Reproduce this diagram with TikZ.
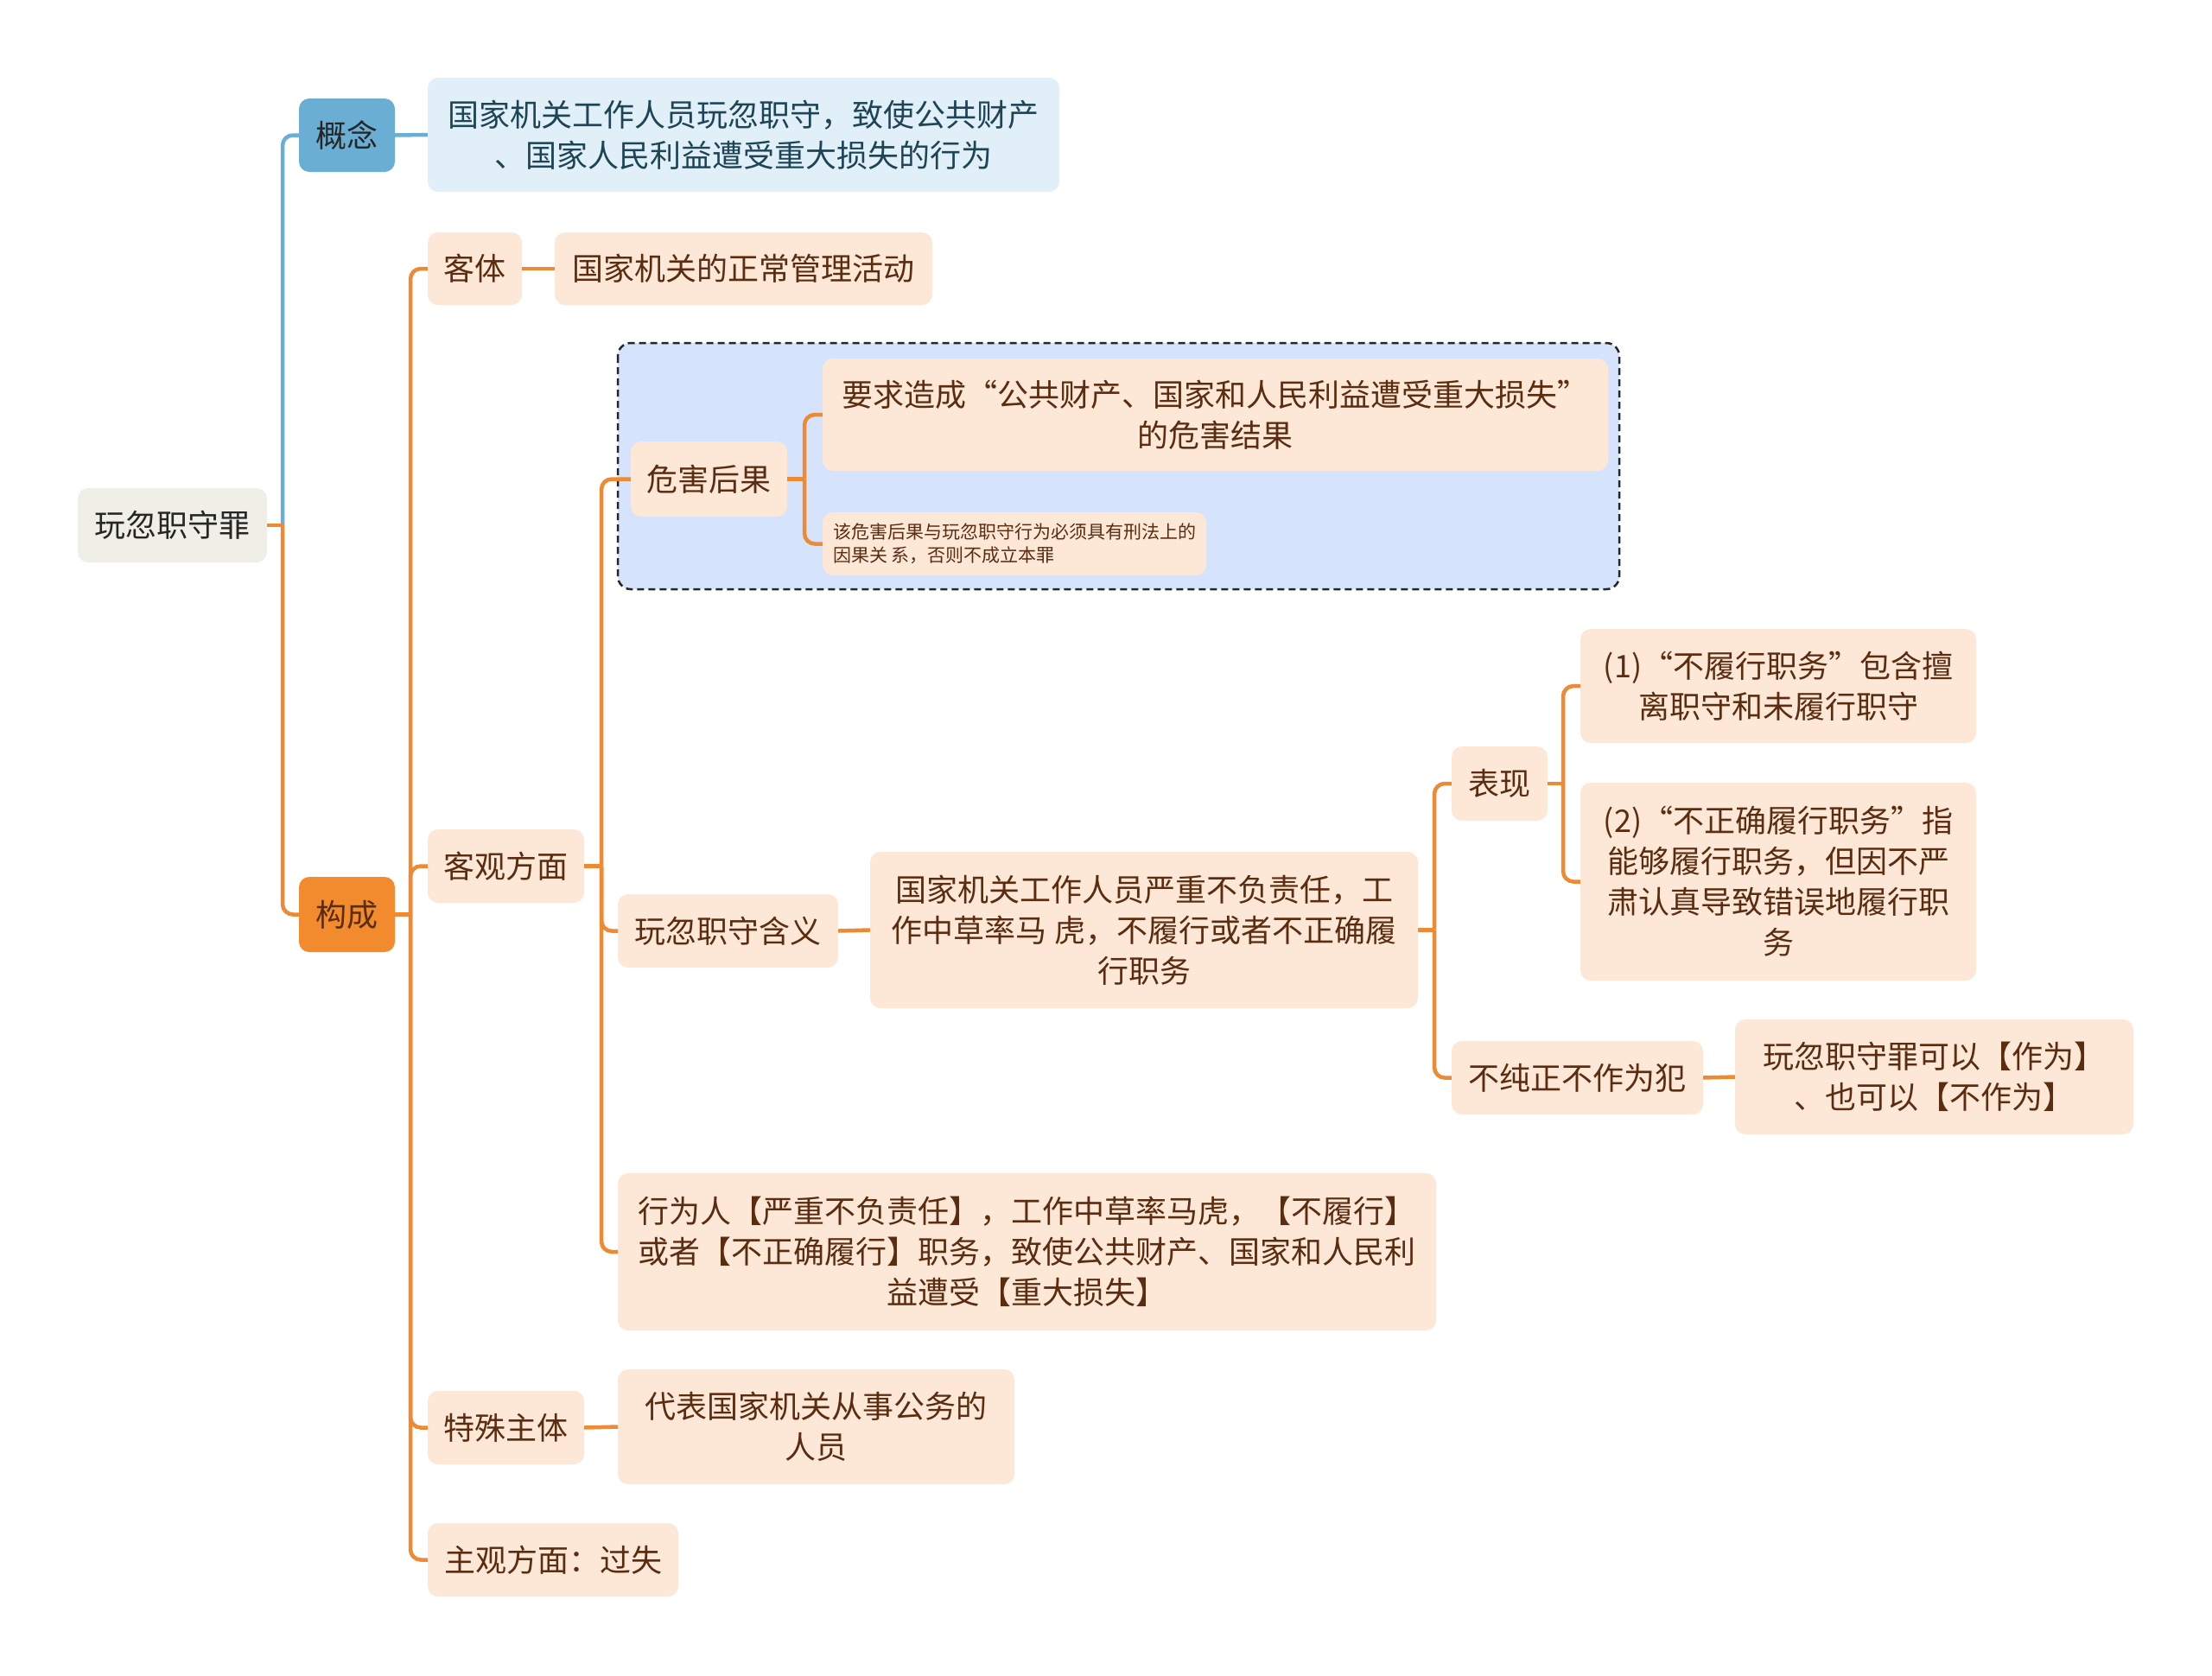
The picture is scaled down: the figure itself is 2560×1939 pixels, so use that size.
\documentclass[tikz,border=0pt]{standalone}
\usepackage{fontspec}
\newfontfamily\cjk{Noto Sans CJK SC}
\definecolor{orl}{HTML}{EE8A33}
\definecolor{bll}{HTML}{6AAED3}
\definecolor{peach}{HTML}{FDE8D7}
\definecolor{brn}{HTML}{5A2C10}
\definecolor{rootf}{HTML}{EFEFE7}
\definecolor{gouf}{HTML}{F28A2E}
\definecolor{gncf}{HTML}{E1F0F8}
\definecolor{gnt}{HTML}{1D4556}
\definecolor{dashf}{HTML}{D5E4FC}
\tikzset{
  box/.style={rounded corners=12pt, inner sep=0pt, align=center, font=\cjk\fontsize{36}{47}\selectfont},
  pbox/.style={box, fill=peach, text=brn},
  oline/.style={draw=orl, line width=4.5pt},
  bline/.style={draw=bll, line width=4.5pt},
  sz/.style 2 args={minimum width=#1pt, minimum height=#2pt}
}
\begin{document}
\begin{tikzpicture}[x=1pt,y=-1pt]
\useasboundingbox (0,0) rectangle (2560,1939);
\fill[white] (0,0) rectangle (2560,1939);
% dashed group
\draw[fill=dashf, draw=black!85, line width=2.5pt, dash pattern=on 8pt off 5pt, rounded corners=15pt] (715,397) rectangle (1874,682);
% nodes
\node[box, fill=rootf, text=black!85, sz={219}{86}] (root) at (199.5,608) {玩忽职守罪};
\node[box, fill=bll, text=black!85, sz={111}{85}] (gn) at (401.5,156.5) {概念};
\node[box, fill=gncf, text=gnt, sz={731}{132}] (gnc) at (860.5,156) {国家机关工作人员玩忽职守，致使公共财产\\、国家人民利益遭受重大损失的行为};
\node[box, fill=gouf, text=brn, sz={111}{87}] (gc) at (401.5,1058.5) {构成};
\node[pbox, sz={109}{84}] (kt) at (549.5,311) {客体};
\node[pbox, sz={437}{84}] (ktc) at (860.5,311) {国家机关的正常管理活动};
\node[pbox, sz={181}{85}] (kg) at (585.5,1002.5) {客观方面};
\node[pbox, sz={181}{87}] (hh) at (820.5,554.5) {危害后果};
\node[pbox, sz={909}{130}] (yq) at (1406.5,480) {要求造成“公共财产、国家和人民利益遭受重大损失”\\的危害结果};
\node[pbox, sz={444}{73}, align=left, font=\cjk\fontsize{21}{27}\selectfont] (gx) at (1174,629.5) {该危害后果与玩忽职守行为必须具有刑法上的\\因果关 系，否则不成立本罪};
\node[pbox, sz={255}{85}] (hy) at (842.5,1077.5) {玩忽职守含义};
\node[pbox, sz={634}{181}] (gj) at (1324,1076.5) {国家机关工作人员严重不负责任，工\\作中草率马 虎，不履行或者不正确履\\行职务};
\node[pbox, sz={111}{86}] (bx) at (1735.5,907) {表现};
\node[pbox, sz={458}{132}] (p1) at (2058,794) {(1)“不履行职务”包含擅\\离职守和未履行职守};
\node[pbox, sz={458}{229}] (p2) at (2058,1020.5) {(2)“不正确履行职务”指\\能够履行职务，但因不严\\肃认真导致错误地履行职\\务};
\node[pbox, sz={291}{85}] (bc) at (1825.5,1247.5) {不纯正不作为犯};
\node[pbox, sz={461}{133}] (kz) at (2238.5,1246.5) {玩忽职守罪可以【作为】\\、也可以【不作为】};
\node[pbox, sz={947}{182}] (xw) at (1188.5,1449) {行为人【严重不负责任】，工作中草率马虎，【不履行】\\或者【不正确履行】职务，致使公共财产、国家和人民利\\益遭受【重大损失】};
\node[pbox, sz={181}{85}] (ts) at (585.5,1652.5) {特殊主体};
\node[pbox, sz={459}{133}] (db) at (944.5,1651.5) {代表国家机关从事公务的\\人员};
\node[pbox, sz={290}{85}] (zg) at (640,1805.5) {主观方面：过失};
% junctions
\coordinate (jR) at (327,608);
\coordinate (jG) at (475,1058.5);
\coordinate (jK) at (696,1002.5);
\coordinate (jH) at (931,554.5);
\coordinate (jJ) at (1660,1076.5);
\coordinate (jB) at (1809,907);
% connectors
\draw[bline, rounded corners=12pt] (jR) |- (gn.west);
\draw[bline] (gn.east) -- (gnc.west);
\draw[oline, rounded corners=12pt] (jR) |- (gc.west);
\draw[oline] (root.east) -- (jR);
\draw[oline] (gc.east) -- (jG);
\foreach \c in {kt,kg,ts,zg} \draw[oline, rounded corners=12pt] (jG) |- (\c.west);
\draw[oline] (kt.east) -- (ktc.west);
\draw[oline] (kg.east) -- (jK);
\foreach \c in {hh,hy,xw} \draw[oline, rounded corners=12pt] (jK) |- (\c.west);
\draw[oline] (hh.east) -- (jH);
\foreach \c in {yq,gx} \draw[oline, rounded corners=12pt] (jH) |- (\c.west);
\draw[oline] (hy.east) -- (gj.west);
\draw[oline] (gj.east) -- (jJ);
\foreach \c in {bx,bc} \draw[oline, rounded corners=12pt] (jJ) |- (\c.west);
\draw[oline] (bx.east) -- (jB);
\foreach \c in {p1,p2} \draw[oline, rounded corners=12pt] (jB) |- (\c.west);
\draw[oline] (bc.east) -- (kz.west);
\draw[oline] (ts.east) -- (db.west);
\end{tikzpicture}
\end{document}
